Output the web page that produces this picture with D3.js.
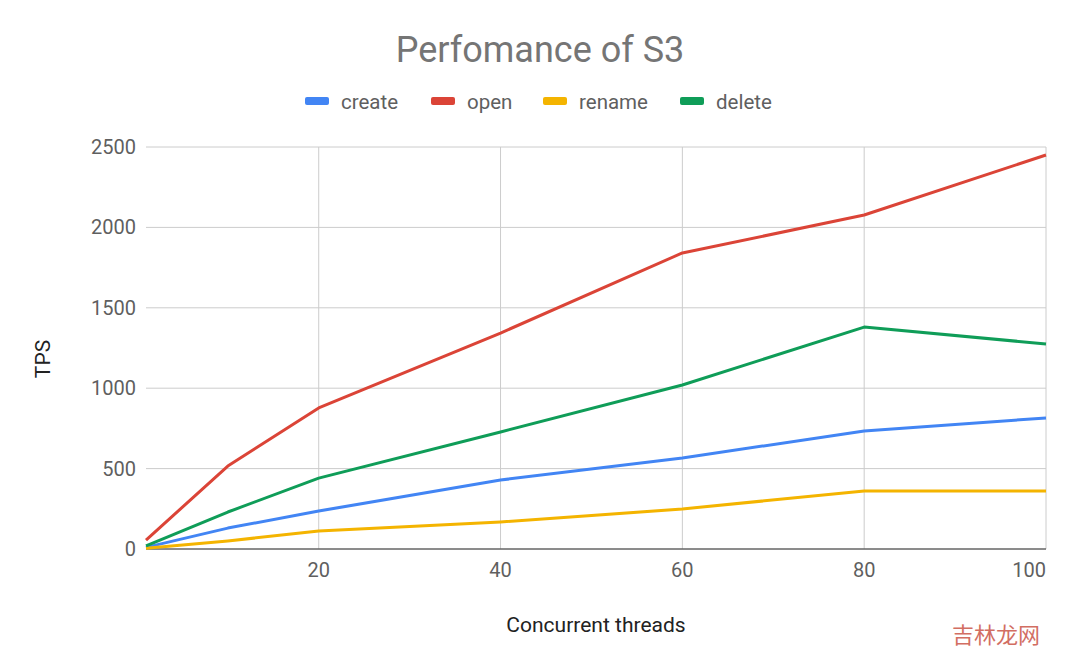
<!DOCTYPE html>
<html><head><meta charset="utf-8">
<script src="https://cdn.jsdelivr.net/npm/d3@7"></script>
<style>body{margin:0;background:#fff}</style></head>
<body><svg id="c" width="1080" height="670"></svg>
<script>
const threads=[1,10,20,40,60,80,100];
const seriesNames=["create","open","rename","delete"];
const colors=["#4285f4","#db4437","#f4b400","#0f9d58"];
const createVals=[10,130,236,429,566,734,815];
const openVals=[55,516,877,1343,1841,2077,2450];
const renameVals=[5,50,112,168,249,361,361];
const deleteVals=[20,230,441,728,1020,1380,1275];
const xTicks=[20,40,60,80,100];
const yTicks=[0,500,1000,1500,2000,2500];
const allVals=[createVals,openVals,renameVals,deleteVals];

const svg=d3.select("#c");
const font="Roboto, Arial, sans-serif";
const x=d3.scaleLinear().domain([1,100]).range([146,1046]);
const y=d3.scaleLinear().domain([0,2500]).range([549,147]);

svg.append("g").selectAll("line").data(xTicks).join("line")
 .attr("x1",d=>x(d)).attr("x2",d=>x(d)).attr("y1",147).attr("y2",549).attr("stroke","#ccc");
svg.append("g").selectAll("line").data(yTicks).join("line")
 .attr("x1",146).attr("x2",1046).attr("y1",d=>y(d)).attr("y2",d=>y(d)).attr("stroke","#ccc");
svg.append("line").attr("x1",146).attr("x2",1046).attr("y1",y(0)).attr("y2",y(0)).attr("stroke","#333");

svg.append("g").selectAll("text").data(yTicks).join("text")
 .attr("x",136).attr("y",d=>y(d)+7).attr("text-anchor","end").attr("font-family",font)
 .attr("font-size",20).attr("fill","#5f5f5f").text(d=>d);
svg.append("g").selectAll("text").data(xTicks).join("text")
 .attr("x",d=>x(d)).attr("y",577).attr("text-anchor",d=>d===100?"end":"middle").attr("font-family",font)
 .attr("font-size",20).attr("fill","#5f5f5f").text(d=>d);

const line=d3.line().x((d,i)=>x(threads[i])).y(d=>y(d));
allVals.forEach((v,i)=>svg.append("path").attr("d",line(v)).attr("fill","none")
 .attr("stroke",colors[i]).attr("stroke-width",3).attr("stroke-linejoin","round"));

svg.append("text").attr("x",540).attr("y",62).attr("text-anchor","middle").attr("font-family",font)
 .attr("font-size",36).attr("fill","#757575").text("Perfomance of S3");
const lx=[305,431,543,680];
seriesNames.forEach((n,i)=>{
 svg.append("rect").attr("x",lx[i]).attr("y",97).attr("width",24).attr("height",8).attr("rx",2).attr("fill",colors[i]);
 svg.append("text").attr("x",lx[i]+36).attr("y",109).attr("font-family",font).attr("font-size",20.5).attr("fill","#5f5f5f").text(n);
});
svg.append("text").attr("x",596).attr("y",632).attr("text-anchor","middle").attr("font-family",font)
 .attr("font-size",21).attr("fill","#222").text("Concurrent threads");
svg.append("text").attr("transform","translate(50,359) rotate(-90)").attr("text-anchor","middle").attr("font-family",font)
 .attr("font-size",21).attr("fill","#222").text("TPS");
svg.append("text").attr("x",1040).attr("y",643).attr("text-anchor","end").attr("font-family","'Noto Sans CJK SC'")
 .attr("font-size",22).attr("fill","#c84a3c").attr("opacity",0.8).text("吉林龙网");
</script></body></html>
